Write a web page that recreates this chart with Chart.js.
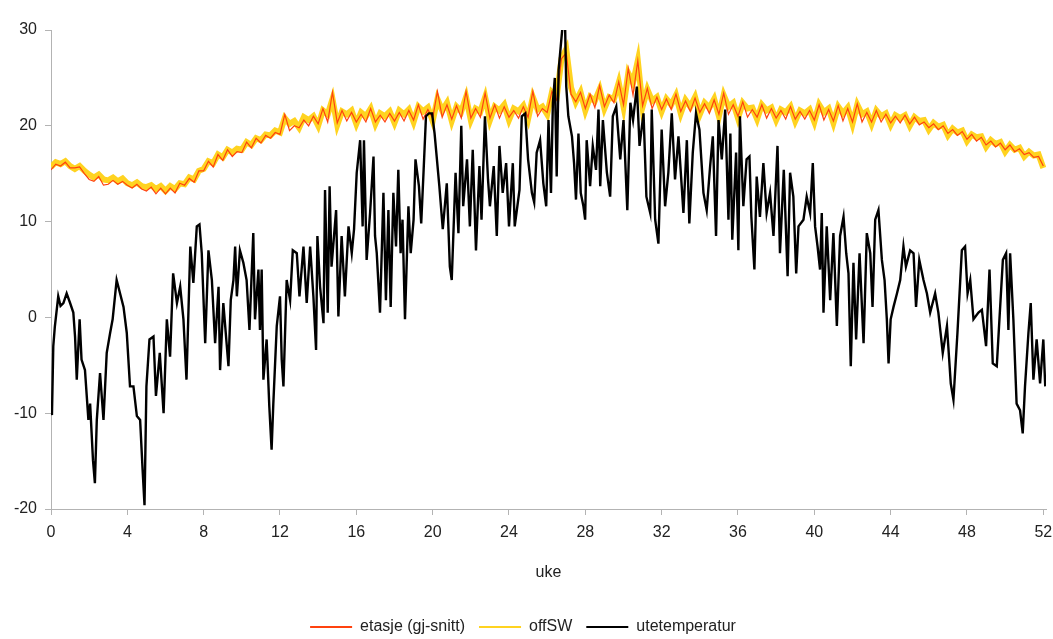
<!DOCTYPE html>
<html>
<head>
<meta charset="utf-8">
<script src="https://cdn.jsdelivr.net/npm/chart.js@4/dist/chart.umd.min.js"></script>
<style>
  html, body { margin: 0; padding: 0; background: #fff; }
</style>
</head>
<body>
<canvas id="temperatur" width="1053" height="639"></canvas>
<script>
// tidspunkt (uke) for innetemperaturene, fire per uke
const kvartUker = [
  0,0.25,0.5,0.75, 1,1.25,1.5,1.75, 2,2.25,2.5,2.75, 3,3.25,3.5,3.75,
  4,4.25,4.5,4.75, 5,5.25,5.5,5.75, 6,6.25,6.5,6.75, 7,7.25,7.5,7.75,
  8,8.25,8.5,8.75, 9,9.25,9.5,9.75, 10,10.25,10.5,10.75, 11,11.25,11.5,11.75,
  12,12.25,12.5,12.75, 13,13.25,13.5,13.75, 14,14.25,14.5,14.75, 15,15.25,15.5,15.75,
  16,16.25,16.5,16.75, 17,17.25,17.5,17.75, 18,18.25,18.5,18.75, 19,19.25,19.5,19.75,
  20,20.25,20.5,20.75, 21,21.25,21.5,21.75, 22,22.25,22.5,22.75, 23,23.25,23.5,23.75,
  24,24.25,24.5,24.75, 25,25.25,25.5,25.75, 26,26.25,26.5,26.75, 27,27.25,27.5,27.75,
  28,28.25,28.5,28.75, 29,29.25,29.5,29.75, 30,30.25,30.5,30.75, 31,31.25,31.5,31.75,
  32,32.25,32.5,32.75, 33,33.25,33.5,33.75, 34,34.25,34.5,34.75, 35,35.25,35.5,35.75,
  36,36.25,36.5,36.75, 37,37.25,37.5,37.75, 38,38.25,38.5,38.75, 39,39.25,39.5,39.75,
  40,40.25,40.5,40.75, 41,41.25,41.5,41.75, 42,42.25,42.5,42.75, 43,43.25,43.5,43.75,
  44,44.25,44.5,44.75, 45,45.25,45.5,45.75, 46,46.25,46.5,46.75, 47,47.25,47.5,47.75,
  48,48.25,48.5,48.75, 49,49.25,49.5,49.75, 50,50.25,50.5,50.75, 51,51.25,51.5,51.75,
  52
];

const etasje = [
  15.4,16.0,15.8,16.2, 15.6,15.6,15.7,15.0, 14.4,14.2,14.7,13.8, 13.9,14.3,13.9,14.2,
  13.8,13.5,13.9,13.4, 13.2,13.6,12.9,13.5, 12.9,13.5,13.0,14.0, 13.8,14.5,14.1,15.3,
  15.3,16.3,15.7,17.0, 16.4,17.5,16.8,17.3, 17.2,18.3,17.7,18.7, 18.2,19.0,18.7,19.3,
  19.1,21.2,19.5,20.0, 19.8,20.6,20.0,21.0, 20.2,21.8,20.4,23.5, 20.3,21.6,20.5,21.4,
  20.4,21.2,20.4,21.8, 20.4,21.1,20.4,21.3, 20.5,21.4,20.5,21.6, 20.6,22.2,20.7,21.7,
  20.8,23.6,20.9,22.2, 20.7,22.1,20.8,23.6, 20.8,21.8,20.9,23.4, 20.8,22.2,20.8,22.0,
  20.9,21.6,20.8,22.0, 20.9,23.6,21.0,21.8, 21.4,23.6,22.7,27.0, 27.6,23.3,22.5,23.5,
  21.8,23.3,21.9,24.2, 22.0,23.2,22.4,24.6, 22.2,26.0,23.2,26.8, 22.1,23.9,21.8,23.0,
  21.7,22.8,21.7,23.3, 21.5,22.6,21.5,22.9, 21.4,22.3,21.3,22.7, 21.2,23.4,21.2,22.2,
  21.0,22.5,20.9,21.7, 20.9,22.2,20.8,21.8, 20.8,21.6,20.7,22.0, 20.7,21.5,20.7,21.6,
  20.6,22.2,20.6,21.7, 20.5,22.1,20.5,21.8, 20.4,22.3,20.4,21.4, 20.4,21.6,20.4,21.2,
  20.3,21.0,20.3,21.1, 20.2,20.9,20.1,20.4, 19.8,20.2,19.6,20.0, 19.2,19.6,19.0,19.4,
  18.6,19.1,18.4,18.8, 18.0,18.4,17.8,18.2, 17.5,18.0,17.3,17.6, 17.0,17.2,16.7,16.8,
  15.8
];

const offSW = [
  15.7,16.2,16.0,16.3, 15.8,15.5,15.8,15.3, 14.9,14.6,14.9,14.4, 14.3,14.6,14.2,14.5,
  14.0,13.8,14.1,13.7, 13.6,13.8,13.4,13.7, 13.2,13.7,13.4,14.0, 13.9,14.6,14.4,15.3,
  15.5,16.3,16.1,17.0, 16.7,17.5,17.2,17.6, 17.5,18.3,18.0,18.7, 18.5,19.1,19.0,19.5,
  19.3,20.8,20.2,20.5, 19.8,20.9,20.6,21.0, 20.0,21.6,21.2,22.8, 20.1,21.5,21.2,21.6,
  20.2,21.4,21.0,21.8, 20.2,21.3,21.0,21.5, 20.3,21.6,21.2,21.7, 20.4,22.0,21.5,21.9,
  20.5,22.8,21.6,22.4, 20.5,22.0,21.5,23.0, 20.6,21.8,21.5,23.0, 20.6,22.0,21.6,22.2,
  20.6,21.8,21.5,22.1, 20.7,23.0,21.7,22.0, 21.2,23.5,23.0,27.0, 28.0,24.0,22.5,23.5,
  21.6,23.0,22.6,23.8, 21.8,23.0,22.8,24.5, 22.0,25.5,24.5,26.8, 22.0,23.8,22.6,23.0,
  21.5,22.8,22.2,23.2, 21.3,22.7,22.0,23.0, 21.2,22.4,21.9,22.8, 21.0,23.2,22.0,22.4,
  20.8,22.4,21.8,21.9, 20.7,22.2,21.6,21.9, 20.6,21.7,21.4,22.0, 20.5,21.6,21.3,21.7,
  20.4,22.2,21.4,21.8, 20.3,22.0,21.3,21.9, 20.2,22.2,21.2,21.5, 20.2,21.6,21.0,21.3,
  20.1,21.1,20.8,21.1, 20.0,20.9,20.5,20.6, 19.6,20.3,19.9,20.1, 19.0,19.7,19.3,19.5,
  18.4,19.1,18.8,18.9, 17.8,18.5,18.1,18.3, 17.3,18.0,17.5,17.7, 16.8,17.3,16.9,17.0,
  15.6
];

// utetemperatur, lest av punkt for punkt
const uteUke = [
  0,0.05,0.12,0.2,0.38,0.5,0.65,0.82,1.0,1.17,1.26,1.35,1.5,1.6,1.78,1.96,2.05,2.2,2.3,2.4,
  2.57,2.75,2.92,3.1,3.23,3.44,3.62,3.8,3.97,4.14,4.32,4.5,4.67,4.8,4.9,5.0,5.16,5.37,5.5,5.7,
  5.9,6.07,6.24,6.4,6.6,6.77,6.94,7.1,7.3,7.46,7.64,7.78,7.9,8.08,8.25,8.43,8.6,8.78,8.86,9.03,
  9.3,9.42,9.56,9.65,9.74,9.9,10.08,10.25,10.4,10.6,10.69,10.87,10.95,11.04,11.13,11.3,11.44,11.56,11.65,11.83,
  12.0,12.09,12.18,12.35,12.53,12.67,12.88,13.02,13.23,13.4,13.58,13.75,13.89,13.96,14.1,14.28,14.36,14.5,14.6,14.7,
  14.94,15.06,15.23,15.4,15.59,15.76,15.88,16.02,16.2,16.33,16.4,16.54,16.72,16.9,16.98,17.07,17.24,17.42,17.55,17.68,
  17.8,17.94,18.08,18.2,18.32,18.42,18.55,18.73,18.85,19.0,19.1,19.28,19.4,19.52,19.65,19.8,19.97,20.1,20.35,20.53,
  20.74,20.9,21.0,21.2,21.35,21.5,21.6,21.8,21.95,22.1,22.27,22.45,22.56,22.74,22.9,23.0,23.2,23.36,23.5,23.67,
  23.85,24.0,24.2,24.3,24.55,24.67,24.85,25.0,25.2,25.32,25.45,25.63,25.8,25.95,26.07,26.2,26.3,26.4,26.5,26.6,
  26.71,26.82,26.94,27.0,27.11,27.3,27.41,27.51,27.64,27.76,27.9,27.99,28.07,28.25,28.39,28.56,28.69,28.78,28.92,29.13,
  29.3,29.44,29.62,29.83,30.0,30.2,30.36,30.5,30.7,30.84,31.05,31.2,31.4,31.48,31.66,31.83,32.0,32.18,32.35,32.53,
  32.7,32.88,33.05,33.14,33.32,33.45,33.63,33.8,33.98,34.19,34.36,34.54,34.68,34.85,34.98,35.15,35.33,35.5,35.6,35.7,
  35.9,36.02,36.1,36.28,36.45,36.6,36.7,36.86,36.98,37.15,37.33,37.5,37.68,37.86,38.07,38.2,38.4,38.6,38.73,38.9,
  39.05,39.17,39.43,39.6,39.78,39.92,40.04,40.17,40.3,40.39,40.48,40.65,40.83,41.0,41.18,41.35,41.53,41.67,41.79,41.91,
  42.05,42.19,42.37,42.58,42.75,42.93,43.05,43.19,43.36,43.54,43.68,43.8,43.89,44.0,44.15,44.33,44.5,44.67,44.8,45.02,
  45.2,45.33,45.5,45.72,45.9,46.07,46.33,46.5,46.73,46.95,47.15,47.29,47.5,47.73,47.9,48.03,48.17,48.34,48.6,48.78,
  49.0,49.18,49.35,49.56,49.7,49.88,50.05,50.17,50.26,50.43,50.6,50.78,50.92,51.04,51.22,51.34,51.48,51.65,51.83,52.0,
  52.1
];
const uteTemp = [
  -9.5,-10.2,-3,-1,2.2,1.2,1.5,2.5,1.5,0.5,-2,-6.5,-0.2,-4.4,-5.5,-10.7,-9,-14.9,-17.3,-10.7,
  -5.8,-10.7,-3.7,-1.6,-0.2,3.9,2.5,1.1,-1.6,-7.2,-7.2,-10.3,-10.7,-15.9,-19.6,-7.2,-2.3,-2,-8.2,-3.7,
  -10,-0.2,-4.1,4.6,1.5,3.2,-0.2,-6.5,7.4,3.6,9.5,9.7,6.7,-2.7,7,3.9,-2.7,3.2,-5.5,1.5,
  -5.1,1.8,3.9,7.4,2.2,7,5.7,3.9,-1.3,8.8,-0.2,5,-1.3,5,-6.5,-2.3,-9.3,-13.8,-9,-0.9,
  2.2,-4.4,-7.2,3.9,1.8,7,6.7,2.2,7.4,1.5,7.4,2.2,-3.4,8.5,3.2,-0.6,13.3,0.5,13.7,5.3,
  11.2,0.1,8.5,2.2,9.5,6.7,9.2,15.1,18.5,9.5,18.5,6,10.9,16.8,8.5,6.7,0.5,13,1.8,11.2,
  1.1,13,7.4,15.4,6.7,10.2,-0.2,11.6,6.7,10.2,16.5,13.7,9.8,15.1,21,21.3,21.3,19.2,13.7,9.2,
  14,5.3,3.9,15.1,8.8,20,11.6,16.5,9.5,17.5,7,15.8,10.2,21,14.4,11.6,15.8,8.5,17.9,13,
  16.1,9.5,16.1,9.5,13.3,21,21.3,16.5,13,12,17.2,18.5,14,11.6,20.6,13,22.4,25,14.7,25.8,
  28.3,30.7,30.4,24.1,21,18.9,16.1,12.3,19.2,13,11.6,10.2,18.5,13.7,17.9,15.4,21.7,13.7,20.6,15.1,
  12.6,21,22,16.5,20.6,11.2,22.4,20.6,24.1,17.9,21.3,12.6,10.9,21.7,10.2,7.7,19.6,11.6,15.1,21.3,
  14.4,18.9,13.7,10.9,18.5,9.8,17.2,21.3,19.6,13,11.2,15.8,18.9,8.5,20.6,16.5,21.7,10.2,19.2,8.1,
  17.2,7,21,11.6,16.5,16.8,10.5,5,14.7,10.5,16.1,10.9,13,8.5,17.9,6.7,15.4,4.3,15.1,12.6,
  4.6,9.5,10.2,12.6,10.9,16.1,9.5,7.4,5,10.9,0.5,9.5,1.8,8.8,-0.9,8.5,10.5,6.7,4.6,-5.1,
  5.7,-2.3,6.7,-2.7,8.8,6.7,1.1,10.2,11.2,6,3.9,-0.2,-4.8,-0.2,1.1,2.5,3.9,7.4,5.3,7,
  6.7,1.1,6,3.9,2.5,0.5,2.5,0.5,-3.7,-0.9,-6.9,-8.6,-1.6,7,7.4,2.5,3.9,-0.2,0.5,0.8,
  -3,5,-4.8,-5.1,-0.2,6,6.7,-1.3,6.7,-0.2,-9,-9.7,-12.1,-7.2,-1.6,1.5,-6.5,-2.3,-6.9,-2.3,
  -7.2
];

const serier = ['etasje (gj-snitt)', 'offSW', 'utetemperatur'];
const yTicks = [-20, -10, 0, 10, 20, 30];

const tekst = { family: 'Liberation Sans', size: 16 };
const akseFarge = '#b3b3b3';

function punkter(xs, ys) {
  return ys.map((y, i) => ({ x: xs[i], y: y }));
}

new Chart(document.getElementById('temperatur'), {
  type: 'line',
  data: {
    datasets: [
      {
        label: serier[0],
        data: punkter(kvartUker, etasje),
        borderColor: '#ff420e',
        backgroundColor: '#ff420e',
        borderWidth: 1.2,
        order: 1
      },
      {
        label: serier[1],
        data: punkter(kvartUker, offSW),
        borderColor: '#ffd320',
        backgroundColor: '#ffd320',
        borderWidth: 6,
        order: 2
      },
      {
        label: serier[2],
        data: punkter(uteUke, uteTemp),
        borderColor: '#000000',
        backgroundColor: '#000000',
        borderWidth: 2.4,
        order: 0
      }
    ]
  },
  options: {
    responsive: false,
    animation: false,
    elements: {
      point: { radius: 0 },
      line: { tension: 0 }
    },
    layout: {
      padding: { top: 30, right: 7, left: 0, bottom: 0 }
    },
    scales: {
      x: {
        type: 'linear',
        min: 0,
        max: 52.14,
        afterFit: function(scale) {
          scale.height = 96;
          scale.paddingLeft = 0;
          scale.paddingRight = 0;
        },
        border: { color: akseFarge },
        grid: { drawOnChartArea: false, color: akseFarge, tickLength: 6 },
        ticks: {
          stepSize: 4,
          includeBounds: false,
          color: '#222',
          font: tekst,
          padding: 8,
          maxRotation: 0
        },
        title: {
          display: true,
          text: 'uke',
          color: '#222',
          font: tekst,
          padding: { top: 4, bottom: 23 }
        }
      },
      y: {
        min: yTicks[0],
        max: yTicks[yTicks.length - 1],
        afterFit: function(scale) { scale.width = 51; },
        border: { color: akseFarge },
        grid: { drawOnChartArea: false, color: akseFarge, tickLength: 6 },
        ticks: {
          stepSize: 10,
          color: '#222',
          font: tekst,
          padding: 8
        }
      }
    },
    plugins: {
      legend: {
        position: 'bottom',
        maxHeight: 34,
        labels: {
          color: '#222',
          font: tekst,
          usePointStyle: true,
          pointStyle: 'line',
          pointStyleWidth: 42,
          padding: 14,
          generateLabels: function(chart) {
            const items = Chart.defaults.plugins.legend.labels.generateLabels(chart);
            items.forEach(item => {
              item.lineWidth = 2;
              item.pointStyle = 'line';
            });
            return items.sort((a, b) => a.datasetIndex - b.datasetIndex);
          }
        }
      },
      tooltip: { enabled: false }
    }
  }
});
</script>
</body>
</html>
